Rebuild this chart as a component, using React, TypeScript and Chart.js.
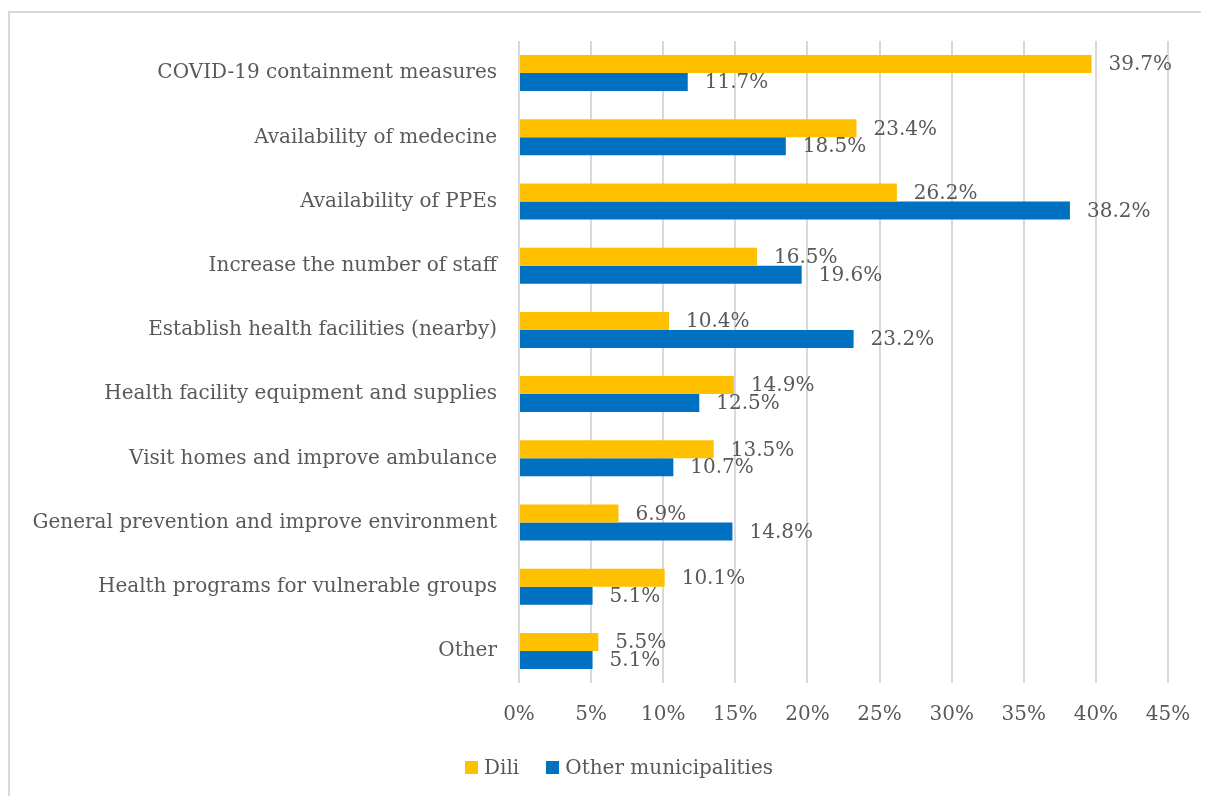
import React, { useEffect, useRef } from "react";
import { Chart, registerables } from "chart.js";

Chart.register(...registerables);

const categories = [
  "COVID-19 containment measures",
  "Availability of medecine",
  "Availability of PPEs",
  "Increase the number of staff",
  "Establish health facilities (nearby)",
  "Health facility equipment and supplies",
  "Visit homes and improve ambulance",
  "General prevention and improve environment",
  "Health programs for vulnerable groups",
  "Other",
];
const diliValues = [39.7, 23.4, 26.2, 16.5, 10.4, 14.9, 13.5, 6.9, 10.1, 5.5];
const otherValues = [11.7, 18.5, 38.2, 19.6, 23.2, 12.5, 10.7, 14.8, 5.1, 5.1];
const seriesNames = ["Dili", "Other municipalities"];
const seriesColors = ["#FFC000", "#0070C0"];
const xTicks = [0, 5, 10, 15, 20, 25, 30, 35, 40, 45];

const FONT = "'DejaVu Serif', serif";
const TEXT = "#595959";

const labelPlugin = {
  id: "barLabels",
  afterDatasetsDraw(chart: any) {
    const ctx = chart.ctx;
    ctx.save();
    ctx.font = `20px ${FONT}`;
    ctx.fillStyle = TEXT;
    ctx.textAlign = "left";
    ctx.textBaseline = "middle";
    chart.data.datasets.forEach((ds: any, di: number) => {
      const meta = chart.getDatasetMeta(di);
      meta.data.forEach((bar: any, i: number) => {
        const v = ds.data[i];
        ctx.fillText(v.toFixed(1) + "%", bar.x + 17, bar.y + 1);
      });
    });
    ctx.restore();
  },
};

export default function App() {
  const ref = useRef<HTMLCanvasElement | null>(null);
  useEffect(() => {
    document.body.style.overflow = "hidden";
    const chart = new Chart(ref.current!, {
      type: "bar",
      data: {
        labels: categories,
        datasets: [0, 1].map((k) => ({
          label: seriesNames[k],
          data: k === 0 ? diliValues : otherValues,
          backgroundColor: seriesColors[k],
          barPercentage: 1,
          categoryPercentage: 0.56,
        })),
      },
      options: {
        indexAxis: "y",
        animation: false,
        responsive: false,
        layout: { padding: { top: 28, right: 41, bottom: 50, left: 0 } },
        plugins: {
          legend: { display: false },
          tooltip: { enabled: false },
        },
        scales: {
          x: {
            min: 0,
            max: 45,
            afterBuildTicks(scale: any) {
              scale.ticks = xTicks.map((v) => ({ value: v }));
            },
            afterFit(scale: any) {
              scale.height = 63;
              scale.paddingLeft = 0;
              scale.paddingRight = 0;
            },
            ticks: {
              callback: (v: any) => v + "%",
              font: { family: FONT, size: 20 },
              color: TEXT,
              padding: 20,
              maxRotation: 0,
            },
            grid: { color: "#d9d9d9", lineWidth: 2, drawTicks: false },
            border: { display: false },
          },
          y: {
            afterFit(scale: any) {
              scale.width = 509;
              scale.paddingTop = 0;
              scale.paddingBottom = 0;
            },
            ticks: {
              font: { family: FONT, size: 20 },
              color: TEXT,
              padding: 22,
            },
            grid: { display: false, drawTicks: false },
            border: { display: false },
          },
        },
      },
      plugins: [labelPlugin],
    } as any);
    return () => chart.destroy();
  }, []);
  return (
    <div
      style={{
        position: "relative",
        marginTop: 3,
        width: 1199,
        height: 783,
        borderTop: "2px solid #d9d9d9",
        borderLeft: "2px solid #d9d9d9",
        background: "#fff",
      }}
    >
      <canvas ref={ref} width={1199} height={783} style={{ display: "block" }} />
      <div
        style={{
          position: "absolute",
          left: 455,
          top: 741,
          height: 26,
          display: "flex",
          alignItems: "center",
          fontFamily: FONT,
          fontSize: 20,
          color: TEXT,
          whiteSpace: "nowrap",
        }}
      >
        {seriesNames.map((name, k) => (
          <div
            key={name}
            style={{ display: "flex", alignItems: "center", marginRight: k === 0 ? 27 : 0 }}
          >
            <span
              style={{
                display: "inline-block",
                width: 13,
                height: 13,
                background: seriesColors[k],
                marginRight: 6,
              }}
            />
            <span>{name}</span>
          </div>
        ))}
      </div>
    </div>
  );
}
